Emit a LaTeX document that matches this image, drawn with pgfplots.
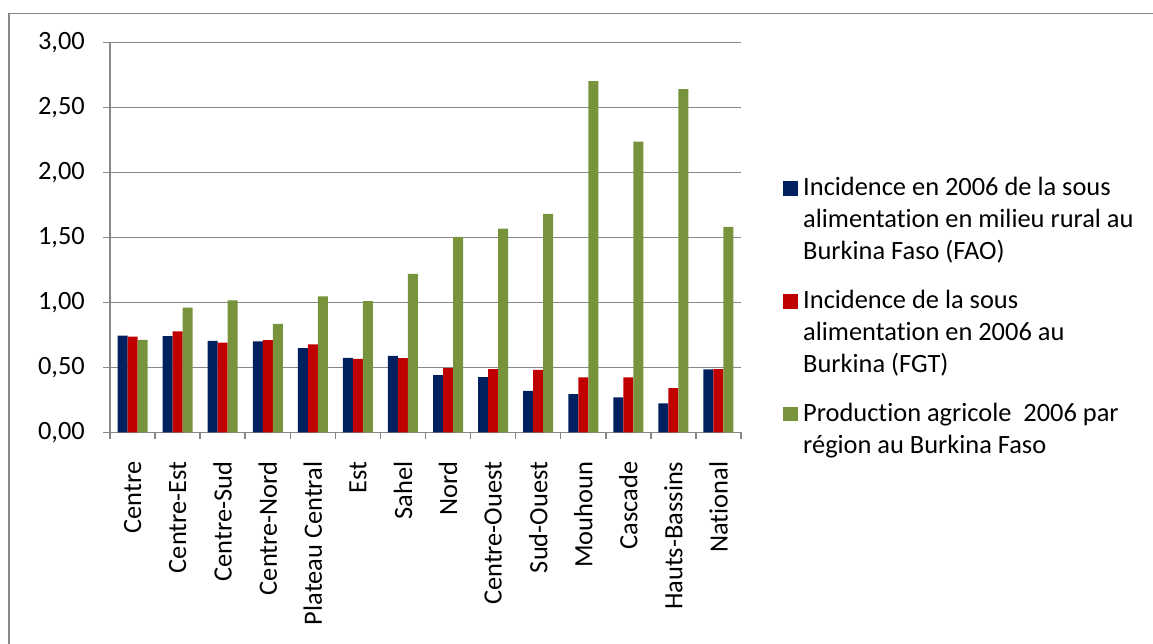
\documentclass[border=0pt]{standalone}
\usepackage{fontspec}
\setmainfont{Carlito}[Ligatures=NoCommon]
\usepackage{pgfplots}
\pgfplotsset{compat=1.18}
\definecolor{cblue}{HTML}{002060}
\definecolor{cred}{HTML}{C00000}
\definecolor{cgreen}{HTML}{77933C}
\definecolor{cgrid}{HTML}{878787}
\newcommand{\chartfont}{\fontsize{26.4}{32}\selectfont}
\begin{document}
\begin{tikzpicture}[x=1pt,y=1pt]
\useasboundingbox (0,0) rectangle (1153,644);
\draw[cgrid, line width=1.5pt] (9,-5) -- (9,630.5) -- (1160,630.5);
\begin{axis}[
  at={(110pt,211.5pt)}, anchor=south west,
  scale only axis, width=631pt, height=390pt,
  xmin=-0.5, xmax=13.5, ymin=0, ymax=3,
  ybar=0pt, bar width=10pt,
  ytick={0,0.5,1,1.5,2,2.5,3},
  ymajorgrids, grid style={cgrid, line width=1.5pt},
  axis lines=left, axis line style={cgrid, line width=1.5pt, -},
  tick align=outside, major tick length=7pt, minor tick length=7pt,
  tick style={cgrid, line width=1.5pt},
  xtick={0,...,13},
  xticklabels={Centre,Centre-Est,Centre-Sud,Centre-Nord,Plateau Central,Est,Sahel,Nord,Centre-Ouest,Sud-Ouest,Mouhoun,Cascade,Hauts-Bassins,National},
  major x tick style={draw=none},
  minor xtick={-0.5,0.5,...,13.5},
  tick label style={font=\chartfont, text=black},
  xticklabel style={rotate=90, anchor=east, inner sep=0pt, xshift=-22pt},
  yticklabel style={inner sep=0pt, xshift=-18pt,
    /pgf/number format/fixed, /pgf/number format/fixed zerofill,
    /pgf/number format/precision=2, /pgf/number format/use comma,
    /pgf/number format/assume math mode=true},
  legend style={at={(rel axis cs:1.0666,0.6546)}, anchor=north west,
    draw=none, fill=none, inner sep=0pt, font=\chartfont,
    nodes={inner sep=0pt},
    cells={anchor=base west}, column sep=5pt, row sep=93pt},
]
\addplot[fill=cblue, draw=none, bar shift=-10pt,
  legend image code/.code={\fill[cblue] (0pt,0pt) rectangle (15pt,14.5pt);}]
  coordinates {(0,0.746) (1,0.741) (2,0.705) (3,0.700) (4,0.649) (5,0.574) (6,0.590) (7,0.441) (8,0.426) (9,0.321) (10,0.296) (11,0.270) (12,0.224) (13,0.486)};
\addlegendentry{\vtop{\hbox{Incidence en 2006 de la sous}\hbox{alimentation en milieu rural au}\hbox{Burkina Faso (FAO)}}}
\addplot[fill=cred, draw=none, bar shift=0pt,
  legend image code/.code={\fill[cred] (0pt,0pt) rectangle (15pt,14.5pt);}]
  coordinates {(0,0.738) (1,0.777) (2,0.692) (3,0.710) (4,0.677) (5,0.567) (6,0.572) (7,0.495) (8,0.487) (9,0.482) (10,0.424) (11,0.424) (12,0.342) (13,0.488)};
\addlegendentry{\vtop{\hbox{Incidence de la sous}\hbox{alimentation en 2006 au}\hbox{Burkina (FGT)}}}
\addplot[fill=cgreen, draw=none, bar shift=10pt,
  legend image code/.code={\fill[cgreen] (0pt,0pt) rectangle (15pt,14.5pt);}]
  coordinates {(0,0.712) (1,0.961) (2,1.017) (3,0.835) (4,1.048) (5,1.010) (6,1.220) (7,1.505) (8,1.568) (9,1.682) (10,2.703) (11,2.237) (12,2.642) (13,1.582)};
\addlegendentry{\vtop{\hbox{Production agricole\ \ 2006 par}\hbox{région au Burkina Faso}}}
\end{axis}
\end{tikzpicture}
\end{document}
